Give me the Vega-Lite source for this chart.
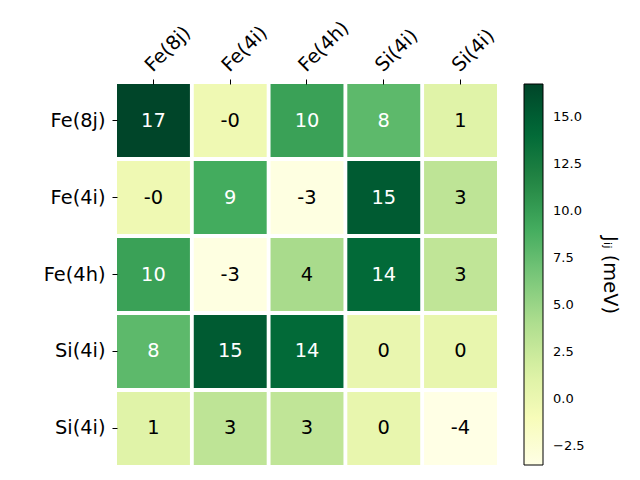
{
  "$schema": "https://vega.github.io/schema/vega-lite/v6.json",
  "autosize": "none",
  "width": 380,
  "height": 381,
  "padding": {"left": 117, "top": 84, "right": 143, "bottom": 15},
  "background": "white",
  "config": {"font": "DejaVu Sans", "view": {"stroke": null}},
  "data": {
    "values": [
      {"r": 0, "c": 0, "v": 16.78, "label": "17"},
      {"r": 0, "c": 1, "v": -0.3, "label": "-0"},
      {"r": 0, "c": 2, "v": 9.8, "label": "10"},
      {"r": 0, "c": 3, "v": 7.9, "label": "8"},
      {"r": 0, "c": 4, "v": 1.0, "label": "1"},
      {"r": 1, "c": 0, "v": -0.3, "label": "-0"},
      {"r": 1, "c": 1, "v": 9.1, "label": "9"},
      {"r": 1, "c": 2, "v": -3.3, "label": "-3"},
      {"r": 1, "c": 3, "v": 15.2, "label": "15"},
      {"r": 1, "c": 4, "v": 3.1, "label": "3"},
      {"r": 2, "c": 0, "v": 9.8, "label": "10"},
      {"r": 2, "c": 1, "v": -3.3, "label": "-3"},
      {"r": 2, "c": 2, "v": 4.3, "label": "4"},
      {"r": 2, "c": 3, "v": 14.1, "label": "14"},
      {"r": 2, "c": 4, "v": 3.0, "label": "3"},
      {"r": 3, "c": 0, "v": 7.9, "label": "8"},
      {"r": 3, "c": 1, "v": 15.2, "label": "15"},
      {"r": 3, "c": 2, "v": 14.1, "label": "14"},
      {"r": 3, "c": 3, "v": 0.2, "label": "0"},
      {"r": 3, "c": 4, "v": 0.3, "label": "0"},
      {"r": 4, "c": 0, "v": 1.0, "label": "1"},
      {"r": 4, "c": 1, "v": 3.1, "label": "3"},
      {"r": 4, "c": 2, "v": 3.0, "label": "3"},
      {"r": 4, "c": 3, "v": 0.3, "label": "0"},
      {"r": 4, "c": 4, "v": -3.51, "label": "-4"}
    ]
  },
  "encoding": {
    "x": {
      "field": "c", "type": "ordinal",
      "scale": {"paddingInner": 0.05, "paddingOuter": 0},
      "axis": {
        "orient": "top", "title": null, "domain": false,
        "labelExpr": "['Fe(8j)','Fe(4i)','Fe(4h)','Si(4i)','Si(4i)'][datum.value]",
        "labelAngle": -45, "labelAlign": "left", "labelBaseline": "middle",
        "labelFontSize": 19.4, "labelColor": "black", "labelPadding": 11, "labelOffset": -5,
        "tickSize": 5, "tickColor": "black", "tickWidth": 1
      }
    },
    "y": {
      "field": "r", "type": "ordinal",
      "scale": {"paddingInner": 0.05, "paddingOuter": 0},
      "axis": {
        "title": null, "domain": false,
        "labelExpr": "['Fe(8j)','Fe(4i)','Fe(4h)','Si(4i)','Si(4i)'][datum.value]",
        "labelAngle": 0, "labelFontSize": 19.4, "labelColor": "black", "labelPadding": 7,
        "tickSize": 5, "tickColor": "black", "tickWidth": 1
      }
    }
  },
  "layer": [
    {
      "mark": {"type": "rect"},
      "encoding": {
        "color": {
          "field": "v", "type": "quantitative",
          "scale": {
            "domain": [-3.51, 16.78],
            "range": ["#ffffe5", "#f7fcb9", "#d9f0a3", "#addd8e", "#78c679", "#41ab5d", "#238443", "#006837", "#004529"],
            "interpolate": "rgb"
          },
          "legend": {
            "type": "gradient", "orient": "none", "legendX": 407, "legendY": 0,
            "direction": "vertical",
            "gradientLength": 381, "gradientThickness": 19,
            "gradientStrokeColor": "black", "gradientStrokeWidth": 1,
            "values": [-2.5, 0, 2.5, 5, 7.5, 10, 12.5, 15],
            "format": ".1f",
            "labelFontSize": 13, "labelColor": "black", "labelOffset": 10,
            "labelOverlap": false,
            "title": "Jᵢⱼ (meV)", "titleOrient": "right", "titleAngle": 90,
            "titleAnchor": "middle", "titleFontSize": 19.4, "titleFontWeight": "normal",
            "titleColor": "black", "titlePadding": 15
          }
        }
      }
    },
    {
      "mark": {"type": "text", "fontSize": 19.4},
      "encoding": {
        "text": {"field": "label"},
        "color": {
          "condition": {"test": "datum.v > 6.6", "value": "white"},
          "value": "black"
        }
      }
    }
  ]
}
